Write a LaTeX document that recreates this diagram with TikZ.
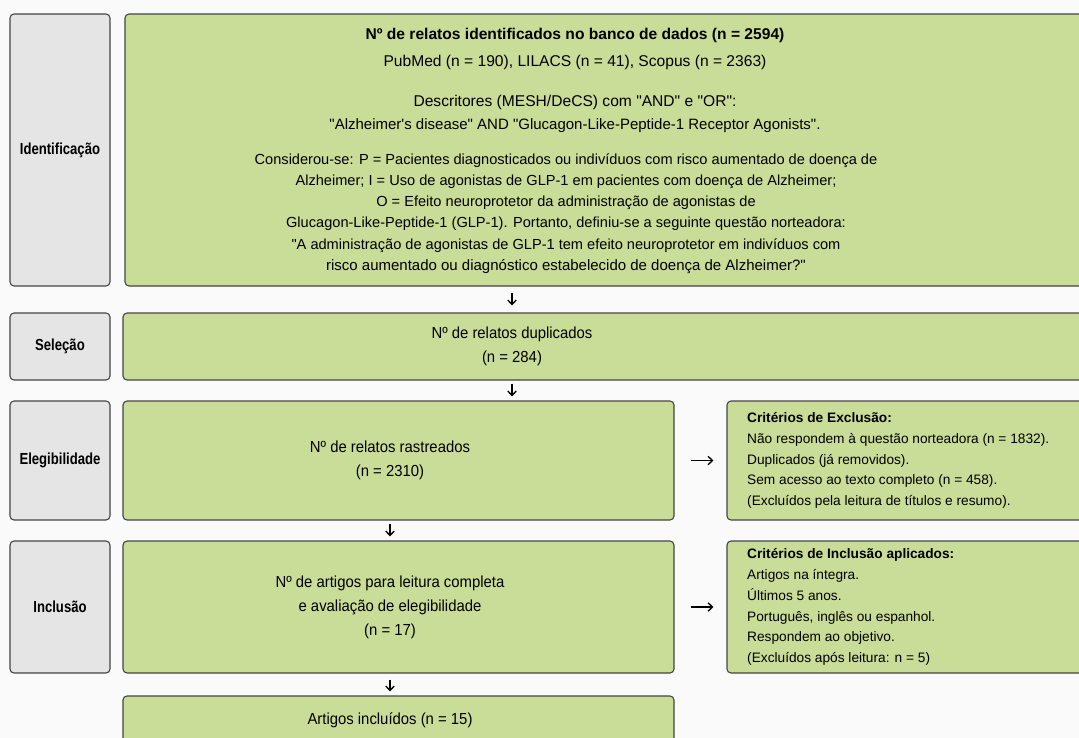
\documentclass[tikz,border=0pt]{standalone}
\usepackage{fontspec}
\setmainfont{Liberation Sans}
\newfontfamily\narrowsf[FakeStretch=0.82]{Liberation Sans}
\newfontfamily\boxsf[FakeStretch=0.93]{Liberation Sans}
\usepackage{tikz}
\usetikzlibrary{arrows.meta, positioning, calc}
\definecolor{pgreen}{HTML}{C9DC98}
\definecolor{pgray}{HTML}{E5E5E5}
\definecolor{pborder}{HTML}{454545}
\definecolor{pbg}{HTML}{FAFAFA}
\newcommand{\qd}{\textquotedbl}
\newcommand{\fsz}[1]{\fontsize{#1}{21.2}\selectfont}
\tikzset{
  phase/.style={draw=pborder, fill=pgray, rounded corners=4pt, line width=1.1pt,
                font=\narrowsf\fontsize{16}{19}\selectfont\bfseries, inner sep=0pt},
  gbox/.style={draw=pborder, fill=pgreen, rounded corners=4pt, line width=1.1pt,
               inner sep=0pt},
  btext/.style={font=\boxsf\fontsize{16}{24}\selectfont, align=center},
  itext/.style={font=\fontsize{14.6}{21.3}\selectfont, align=center},
  ctext/.style={font=\fontsize{13.7}{20.8}\selectfont, align=left, anchor=west, inner sep=0pt},
  arr/.style={-{Straight Barb[length=4.5pt,width=8.5pt]}, line width=1.3pt, black},
}

\begin{document}
\begin{tikzpicture}[x=1pt, y=-1pt]
  \fill[pbg] (0,0) rectangle (1079,738);
  \useasboundingbox (0,0) rectangle (1079,738);
  \clip (0,0) rectangle (1079,738);

  % fases
  \node[phase, minimum width=100pt, minimum height=272pt] (idlbl) at (60,150) {Identificação};
  \node[phase, minimum width=100pt, minimum height=67pt] (sellbl) at (60,346.5) {Seleção};
  \node[phase, minimum width=100pt, minimum height=119pt] (elelbl) at (60,460.5) {Elegibilidade};
  \node[phase, minimum width=100pt, minimum height=132pt] (inclbl) at (60,607) {Inclusão};

  % caixas principais
  \node[gbox, minimum width=985pt, minimum height=272pt] (idbox) at (617.5,150) {};
  \node[itext, anchor=north] (idhead) at (575,24.5) {%
    \fsz{15.6}\textbf{Nº de relatos identificados no banco de dados (n = 2594)}\\[6pt]
    \fsz{15.6}PubMed (n = 190), LILACS (n = 41), Scopus (n = 2363)\\[19pt]
    \fsz{15.6}Descritores (MESH/DeCS) com \qd AND\qd{} e \qd OR\qd:\\[1pt]
    \fsz{15}\qd Alzheimer\textquotesingle s disease\qd{} AND \qd Glucagon-Like-Peptide-1 Receptor Agonists\qd.};
  \node[itext] (idpico) at (566,213.5) {%
    Considerou-se: P = Pacientes diagnosticados ou indivíduos com risco aumentado de doença de\\
    Alzheimer; I = Uso de agonistas de GLP-1 em pacientes com doença de Alzheimer;\\
    O = Efeito neuroprotetor da administração de agonistas de\\
    Glucagon-Like-Peptide-1 (GLP-1). Portanto, definiu-se a seguinte questão norteadora:\\
    \qd A administração de agonistas de GLP-1 tem efeito neuroprotetor em indivíduos com\\
    \fsz{15}risco aumentado ou diagnóstico estabelecido de doença de Alzheimer?\qd};

  \node[gbox, minimum width=987pt, minimum height=67pt] (selbox) at (616.5,346.5) {};
  \node[btext] (seltxt) at (512,346.5) {Nº de relatos duplicados\\(n = 284)};

  \node[gbox, minimum width=551pt, minimum height=119pt] (elebox) at (398.5,460.5) {};
  \node[btext] (eletxt) at (390,460.5) {Nº de relatos rastreados\\(n = 2310)};
  \node[gbox, minimum width=373pt, minimum height=119pt] (excbox) at (913.5,460.5) {};
  \node[ctext] (exctxt) at (747,460.5) {%
    \textbf{Critérios de Exclusão:}\\
    Não respondem à questão norteadora (n = 1832).\\
    Duplicados (já removidos).\\
    Sem acesso ao texto completo (n = 458).\\
    (Excluídos pela leitura de títulos e resumo).};

  \node[gbox, minimum width=551pt, minimum height=132pt] (incbox) at (398.5,607) {};
  \node[btext] (inctxt) at (390,607)
    {Nº de artigos para leitura completa\\e avaliação de elegibilidade\\(n = 17)};
  \node[gbox, minimum width=373pt, minimum height=132pt] (critbox) at (913.5,607) {};
  \node[ctext] (crittxt) at (747,607) {%
    \textbf{Critérios de Inclusão aplicados:}\\
    Artigos na íntegra.\\
    Últimos 5 anos.\\
    Português, inglês ou espanhol.\\
    Respondem ao objetivo.\\
    (Excluídos após leitura: n = 5)};

  \node[gbox, minimum width=551pt, minimum height=48pt] (finbox) at (398.5,720) {};
  \node[btext] (fintxt) at (390,720) {Artigos incluídos (n = 15)};

  % setas
  \draw[arr, shorten <=6pt, shorten >=7pt] (idbox.south -| seltxt) -- (selbox.north -| seltxt);
  \draw[arr, shorten <=3pt, shorten >=4pt] (selbox.south -| seltxt) -- (elebox.north -| seltxt);
  \draw[arr, shorten <=3pt, shorten >=4pt] (elebox.south -| eletxt) -- (incbox.north -| inctxt);
  \draw[arr, shorten <=6pt, shorten >=4pt] (incbox.south -| inctxt) -- (finbox.north -| fintxt);
  \draw[arr, shorten <=16pt, shorten >=13pt] (elebox.east) -- (excbox.west);
  \draw[arr, shorten <=16pt, shorten >=13pt] (incbox.east) -- (critbox.west);
\end{tikzpicture}
\end{document}
